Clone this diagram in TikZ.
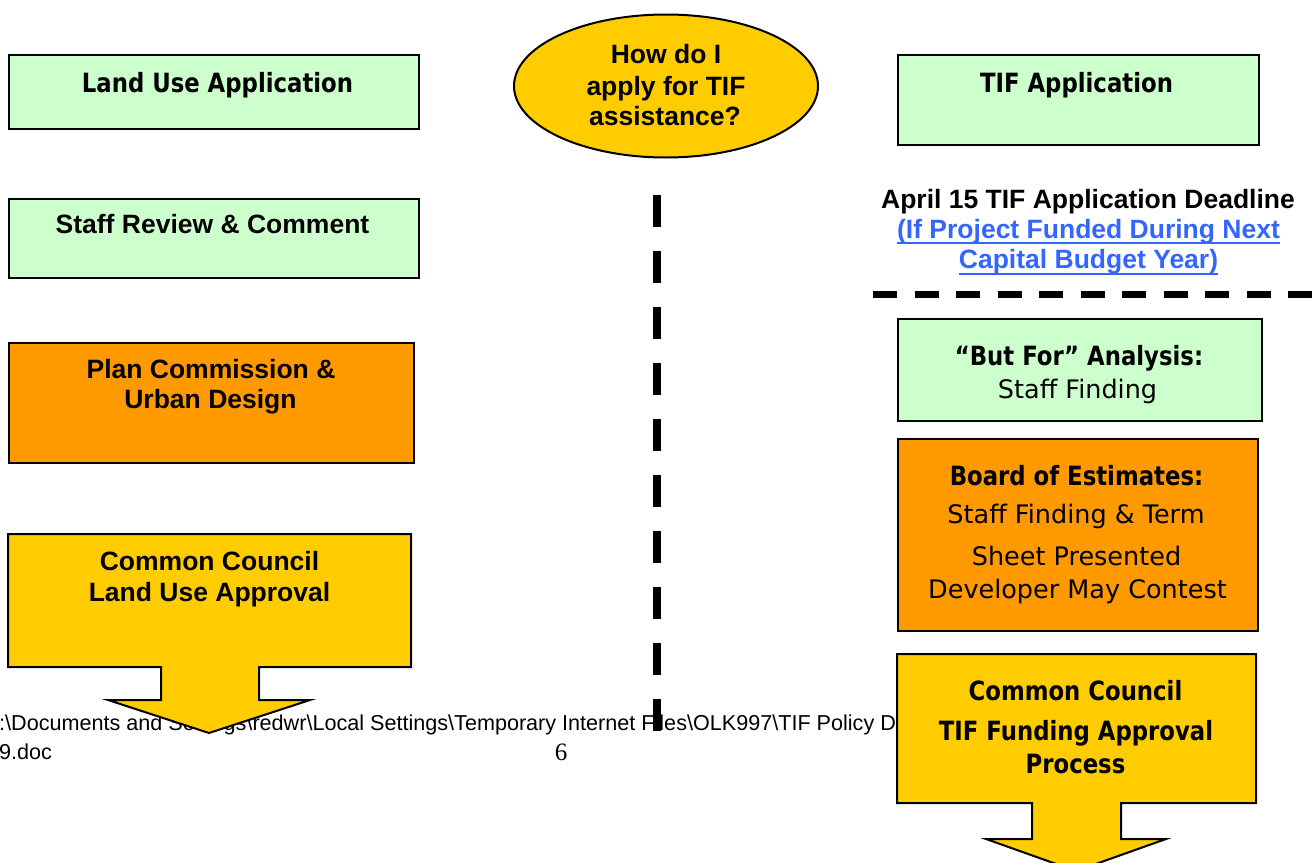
\documentclass[tikz,border=0pt]{standalone}
\usepackage{fontspec}
\usetikzlibrary{shapes.geometric}
\setmainfont{Liberation Sans}
\newfontfamily\vf[FakeStretch=0.86]{DejaVu Sans}
\newfontfamily\vfr{DejaVu Sans}
\newfontfamily\tserif{Liberation Serif}
\definecolor{lgreen}{HTML}{CCFFCC}
\definecolor{orng}{HTML}{FF9900}
\definecolor{ylw}{HTML}{FFCC00}
\definecolor{linkblue}{HTML}{3366FF}
\tikzset{
  box/.style={draw=black, line width=2pt, rectangle, inner sep=0pt, anchor=north west},
  ab/.style={font=\bfseries\fontsize{26.5}{30}\selectfont, inner sep=0pt, anchor=base},
  vb/.style={font=\vf\bfseries\fontsize{26.5}{30}\selectfont, inner sep=0pt, anchor=base},
  vr/.style={font=\vfr\fontsize{25.5}{30}\selectfont, inner sep=0pt, anchor=base},
  foot/.style={font=\fontsize{21.6}{24}\selectfont, inner sep=0pt, anchor=base west},
  bigarrow/.style={draw=black, line width=2pt, fill=ylw, line join=miter},
  sep/.style={draw=black, line cap=butt}
}
\begin{document}
\begin{tikzpicture}[x=1pt,y=-1pt]
\useasboundingbox (0,0) rectangle (1316,862);
\clip (0,0) rectangle (1316,862);
\fill[white] (0,0) rectangle (1316,862);

% footer text (behind everything)
\node[foot] (f1) at (-1,730) {:\textbackslash Documents and Settings\textbackslash redwr\textbackslash Local Settings\textbackslash Temporary Internet Files\textbackslash OLK997\textbackslash TIF Policy Dr};
\node[foot] (f2) at (-1,759) {9.doc};
\node[font=\tserif\fontsize{25}{28}\selectfont, inner sep=0pt, anchor=base] (pg) at (561,760) {6};

% left column
\node[box, fill=lgreen, minimum width=410pt, minimum height=74pt] (lua) at (8,54) {};
\node[vb] (luat) at (217.5,92) {Land Use Application};

\node[box, fill=lgreen, minimum width=410pt, minimum height=79pt] (srv) at (8,198) {};
\node[ab] (srvt) at (212.5,233) {Staff Review \& Comment};

\node[box, fill=orng, minimum width=405pt, minimum height=120pt] (pc) at (8,342) {};
\node[ab] (pct1) at (211,378) {Plan Commission \&};
\node[ab] (pct2) at (210.5,408) {Urban Design};

\coordinate (la1) at (8,534);
\coordinate (la2) at (411,534);
\coordinate (la3) at (411,667);
\coordinate (la4) at (259,667);
\coordinate (la5) at (259,700);
\coordinate (la6) at (310,700);
\coordinate (la7) at (209,733);
\coordinate (la8) at (108,700);
\coordinate (la9) at (161,700);
\coordinate (la10) at (161,667);
\coordinate (la11) at (8,667);
\path[bigarrow] (la1) -- (la2) -- (la3) -- (la4) -- (la5) -- (la6) -- (la7) -- (la8) -- (la9) -- (la10) -- (la11) -- cycle;
\node[ab] (cct1) at (209.5,570) {Common Council};
\node[ab] (cct2) at (209.5,601) {Land Use Approval};

% centre
\node[draw=black, line width=2pt, fill=ylw, ellipse, minimum width=304pt, minimum height=143pt, inner sep=0pt] (q) at (666,86) {};
\node[ab] (q1) at (666,63) {How do I};
\node[ab] (q2) at (666,95) {apply for TIF};
\node[ab] (q3) at (665,125) {assistance?};

\coordinate (vd1) at (657,195);
\coordinate (vd2) at (657,731);
\draw[sep, line width=8pt, dash pattern=on 32pt off 24pt] (vd1) -- (vd2);

% right column
\node[box, fill=lgreen, minimum width=361pt, minimum height=90pt] (tifa) at (897,54) {};
\node[vb] (tifat) at (1076.5,92) {TIF Application};

\node[ab] (ap1) at (1088,208) {April 15 TIF Application Deadline};
\node[ab, text=linkblue] (ap2) at (1088.5,238) {(If Project Funded During Next};
\node[ab, text=linkblue] (ap3) at (1088.5,268) {Capital Budget Year)};
\draw[linkblue, line width=2pt] ([yshift=-5pt]ap2.base west) -- ([yshift=-5pt]ap2.base east);
\draw[linkblue, line width=2pt] ([yshift=-6pt]ap3.base west) -- ([yshift=-6pt]ap3.base east);

\coordinate (hd1) at (873,294);
\coordinate (hd2) at (1316,294);
\draw[sep, line width=7pt, dash pattern=on 24pt off 17.5pt] (hd1) -- (hd2);

\node[box, fill=lgreen, minimum width=364pt, minimum height=102pt] (bf) at (897,318) {};
\node[vb] (bft1) at (1079,365) {“But For” Analysis:};
\node[vr] (bft2) at (1077.5,398) {Staff Finding};

\node[box, fill=orng, minimum width=360pt, minimum height=192pt] (boe) at (897,438) {};
\node[vb] (boet1) at (1076.5,485) {Board of Estimates:};
\node[vr] (boet2) at (1076,523) {Staff Finding \& Term};
\node[vr] (boet3) at (1076.5,565) {Sheet Presented};
\node[vr] (boet4) at (1077.5,598) {Developer May Contest};

\coordinate (ra1) at (897,654);
\coordinate (ra2) at (1256,654);
\coordinate (ra3) at (1256,803);
\coordinate (ra4) at (1121,803);
\coordinate (ra5) at (1121,839);
\coordinate (ra6) at (1166,839);
\coordinate (ra7) at (1076,871);
\coordinate (ra8) at (986,839);
\coordinate (ra9) at (1032,839);
\coordinate (ra10) at (1032,803);
\coordinate (ra11) at (897,803);
\path[bigarrow] (ra1) -- (ra2) -- (ra3) -- (ra4) -- (ra5) -- (ra6) -- (ra7) -- (ra8) -- (ra9) -- (ra10) -- (ra11) -- cycle;
\node[vb] (rct1) at (1075.5,700) {Common Council};
\node[vb] (rct2) at (1076,740) {TIF Funding Approval};
\node[vb] (rct3) at (1075.5,773) {Process};
\end{tikzpicture}
\end{document}
